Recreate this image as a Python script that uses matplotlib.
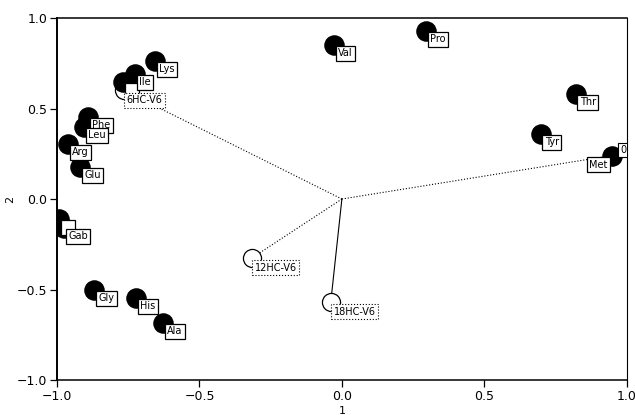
import matplotlib.pyplot as plt

plt.rcParams['font.family'] = ['Liberation Sans Narrow', 'DejaVu Sans']

# 변수 좌표 (채워진 원) - 가려진 라벨은 빈칸
var_names = ['Lys', '   ', 'Ile', 'Phe', 'Leu', 'Arg', 'Glu', '   ', 'Gab',
             'Gly', 'His', 'Ala', 'Val', 'Pro', 'Thr', 'Tyr', 'Met']
var_x = [-0.656, -0.768, -0.726, -0.891, -0.905, -0.961, -0.919, -0.993, -0.975,
         -0.870, -0.723, -0.628, -0.028, 0.295, 0.821, 0.698, 0.947]
var_y = [0.762, 0.646, 0.690, 0.453, 0.398, 0.304, 0.177, -0.110, -0.160,
         -0.503, -0.547, -0.685, 0.851, 0.928, 0.580, 0.359, 0.236]

# 보충 변수 (빈 원, 원점에서 선)
sup_names = ['6HC-V6', '12HC-V6', '18HC-V6', '0HC-V6']
sup_x = [-0.765, -0.316, -0.039, 0.947]
sup_y = [0.600, -0.326, -0.569, 0.240]
sup_style = [':', ':', '-', ':']

fig = plt.figure(figsize=(6.35, 4.15), dpi=100)
ax = fig.add_axes([0.0898, 0.0843, 0.8972, 0.8723])

for x, y, ls in zip(sup_x, sup_y, sup_style):
    ax.plot([0, x], [0, y], color='black', lw=0.8, ls=ls, zorder=1)

ax.scatter(sup_x, sup_y, s=170, facecolors='white', edgecolors='black',
           linewidths=0.9, zorder=2)
ax.scatter(var_x, var_y, s=190, color='black', zorder=3)

for name, x, y in zip(var_names, var_x, var_y):
    off = (3, -6)
    ha = 'left'
    if name == 'Met':
        off = (-3, -6)
        ha = 'right'
    ax.annotate(name, (x, y), xytext=off, textcoords='offset points',
                ha=ha, va='center', fontsize=7, zorder=4,
                bbox=dict(boxstyle='square,pad=0.25', fc='white', ec='black', lw=0.9))

for name, x, y in zip(sup_names, sup_x, sup_y):
    off = (2, -7)
    if name == '0HC-V6':
        off = (6, 4)
    ax.annotate(name, (x, y), xytext=off, textcoords='offset points',
                ha='left', va='center', fontsize=7, zorder=4,
                bbox=dict(boxstyle='square,pad=0.25', fc='white', ec='black',
                          lw=0.8, ls=':' if name != '0HC-V6' else '-'))

ax.set_xlim(-1.0, 1.0)
ax.set_ylim(-1.0, 1.0)
ax.set_xticks([-1.0, -0.5, 0.0, 0.5, 1.0])
ax.set_yticks([-1.0, -0.5, 0.0, 0.5, 1.0])
ax.tick_params(direction='out', length=5, width=0.9, labelsize=9, pad=2)
ax.set_xlabel('1', fontsize=8, labelpad=2)
ax.set_ylabel('2', fontsize=8, labelpad=1)
ax.spines['left'].set_linewidth(1.4)
ax.spines['bottom'].set_linewidth(1.1)
ax.spines['top'].set_linewidth(1.1)
ax.spines['right'].set_linewidth(0.8)

# 오른쪽 끝 라벨은 축 경계에서 잘림
for t in ax.texts:
    t.set_clip_box(ax.bbox)
    t.set_clip_on(True)

plt.savefig('out.png', dpi=100)
